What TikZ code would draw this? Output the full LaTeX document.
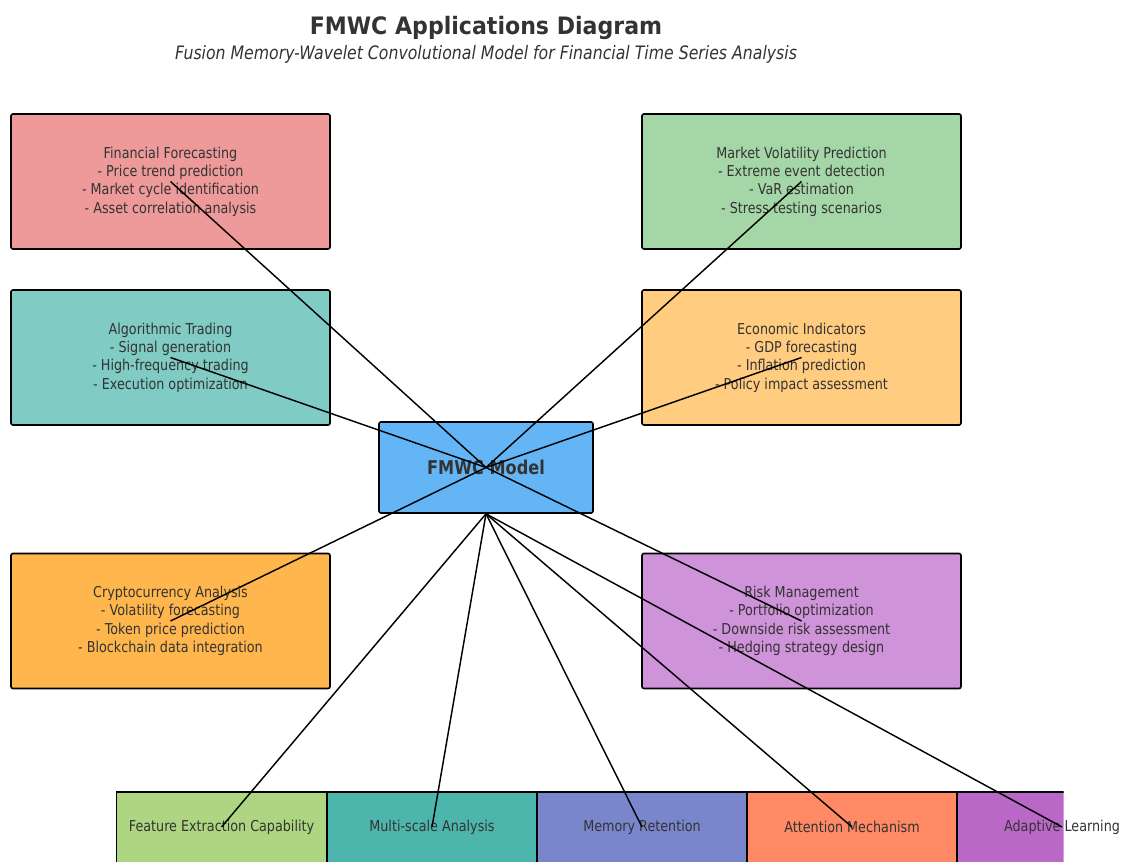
\documentclass[tikz,border=0pt]{standalone}
\usepackage{fontspec}
\setmainfont{DejaVu Sans}[FakeStretch=0.85]
\newfontfamily\titlefont{DejaVu Sans}[FakeStretch=0.92]
\definecolor{txt}{HTML}{333333}
\definecolor{cFF}{HTML}{EF9A9A}
\definecolor{cMV}{HTML}{A5D6A7}
\definecolor{cAT}{HTML}{80CBC4}
\definecolor{cEI}{HTML}{FFCC80}
\definecolor{cCA}{HTML}{FFB74D}
\definecolor{cRM}{HTML}{CE93D8}
\definecolor{cFM}{HTML}{64B5F6}
\definecolor{cB1}{HTML}{AED581}
\definecolor{cB2}{HTML}{4DB6AC}
\definecolor{cB3}{HTML}{7986CB}
\definecolor{cB4}{HTML}{FF8A65}
\definecolor{cB5}{HTML}{BA68C8}
\tikzset{
  appbox/.style={draw=black, line width=1.6pt, rounded corners=2pt, minimum width=319pt, minimum height=135pt, inner sep=0pt, text=txt, align=center, font=\fontsize{15}{18.3}\selectfont},
  featbox/.style={draw=black, line width=1.6pt, minimum width=210pt, minimum height=90pt, inner sep=0pt},
  feattext/.style={text=txt, font=\fontsize{15}{18}\selectfont, inner sep=0pt},
  link/.style={draw=black, line width=1.45pt},
}
\begin{document}
\begin{tikzpicture}[x=1pt, y=-1pt]
\useasboundingbox (0,0) rectangle (1123,861);
\node[text=txt, font=\titlefont\bfseries\fontsize{24}{28}\selectfont] (title) at (486,28) {FMWC Applications Diagram};
\node[text=txt, font=\itshape\fontsize{18.5}{21}\selectfont] (subtitle) at (486,54) {Fusion Memory-Wavelet Convolutional Model for Financial Time Series Analysis};

\node[appbox, fill=cFF] (ff) at (170.5,181.5) {Financial Forecasting\\- Price trend prediction\\- Market cycle identification\\- Asset correlation analysis};
\node[appbox, fill=cMV] (mv) at (801.5,181.5) {Market Volatility Prediction\\- Extreme event detection\\- VaR estimation\\- Stress testing scenarios};
\node[appbox, fill=cAT] (at) at (170.5,357.5) {Algorithmic Trading\\- Signal generation\\- High-frequency trading\\- Execution optimization};
\node[appbox, fill=cEI] (ei) at (801.5,357.5) {Economic Indicators\\- GDP forecasting\\- Inflation prediction\\- Policy impact assessment};
\node[appbox, fill=cCA] (ca) at (170.5,621) {Cryptocurrency Analysis\\- Volatility forecasting\\- Token price prediction\\- Blockchain data integration};
\node[appbox, fill=cRM] (rm) at (801.5,621) {Risk Management\\- Portfolio optimization\\- Downside risk assessment\\- Hedging strategy design};

\node[draw=black, line width=1.6pt, rounded corners=2pt, fill=cFM, minimum width=214pt, minimum height=91pt, inner sep=0pt, text=txt, font=\bfseries\fontsize{19}{22}\selectfont] (fm) at (486,467.5) {FMWC Model};

\node[featbox, fill=cB1] (b1) at (221.5,837) {};
\node[featbox, fill=cB2] (b2) at (432,837) {};
\node[featbox, fill=cB3] (b3) at (642,837) {};
\node[featbox, fill=cB4] (b4) at (852,837) {};
\begin{scope}
\clip (900,780) rectangle (1063.5,890);
\node[featbox, fill=cB5] (b5) at (1062,837) {};
\end{scope}

\node[feattext] (t1) at (221.5,827) {Feature Extraction Capability};
\node[feattext] (t2) at (432,827) {Multi-scale Analysis};
\node[feattext] (t3) at (642,827) {Memory Retention};
\node[feattext] (t4) at (852,827) {Attention Mechanism};
\node[feattext] (t5) at (1062,827) {Adaptive Learning};

\foreach \n in {ff,mv,at,ei,ca,rm} \draw[link] (fm.center) -- (\n.center);
\foreach \n in {t1,t2,t3,t4,t5} \draw[link] (fm.south) -- (\n.center);
\end{tikzpicture}
\end{document}
